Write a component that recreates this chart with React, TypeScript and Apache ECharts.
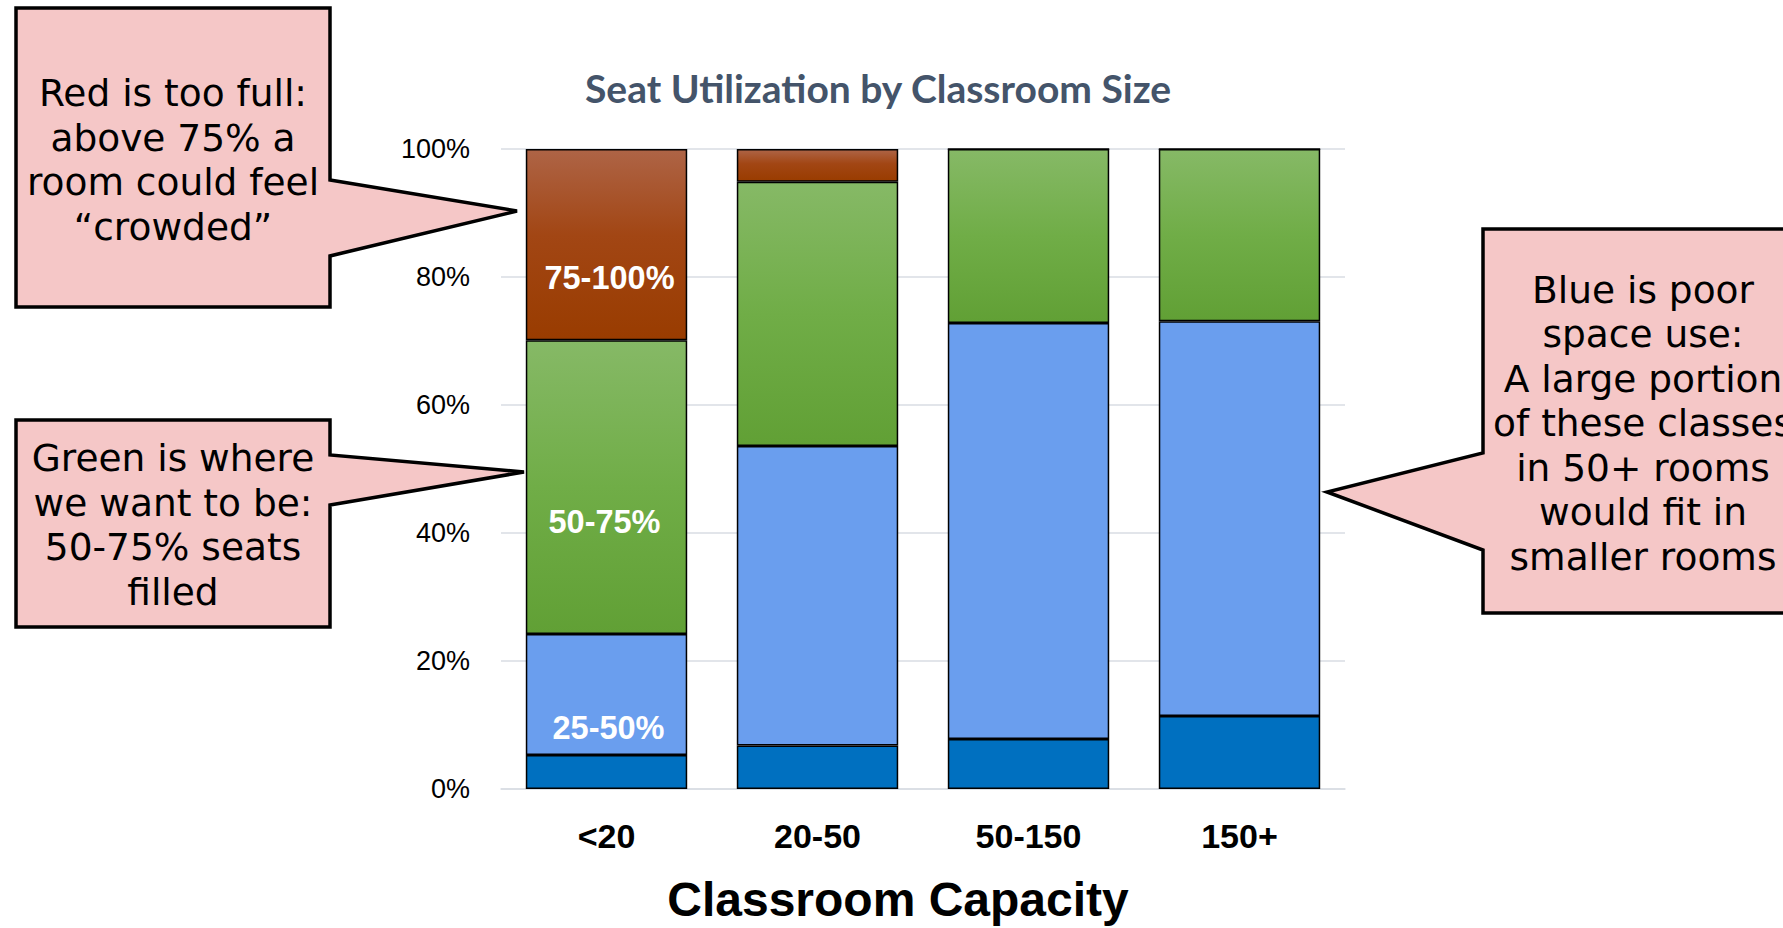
import React, { useEffect, useRef } from "react";
import * as echarts from "echarts";

const categories = ["<20", "20-50", "50-150", "150+"];
const seriesNames = ["0-25%", "25-50%", "50-75%", "75-100%"];
const seg0to25 = [5.3, 6.8, 7.8, 11.4];
const seg25to50 = [18.9, 46.8, 65.0, 61.7];
const seg50to75 = [45.9, 41.3, 27.2, 26.9];
const seg75to100 = [29.9, 5.1, 0, 0];
const labelledCategory = "<20";

const titleText = "Seat Utilization by Classroom Size";
const xAxisName = "Classroom Capacity";

const calloutRed = ["Red is too full:", "above 75% a", "room could feel", "\u201Ccrowded\u201D"];
const calloutGreen = ["Green is where", "we want to be:", "50-75% seats", "filled"];
const calloutBlue = [
  "Blue is poor",
  "space use:",
  "A large portion",
  "of these classes",
  "in 50+ rooms",
  "would fit in",
  "smaller rooms",
];

const PINK = "#F5C7C7";

function grad(stops: [number, string][]) {
  return new echarts.graphic.LinearGradient(
    0, 0, 0, 1,
    stops.map(([offset, color]) => ({ offset, color }))
  );
}

export default function App() {
  const ref = useRef<HTMLDivElement>(null);
  useEffect(() => {
    if (!ref.current) return;
    const chart = echarts.init(ref.current, undefined, { renderer: "svg" });

    const fills = [
      "#0070C0",
      "#6A9EEE",
      grad([
        [0, "#86B966"],
        [0.5, "#70AD47"],
        [1, "#61A035"],
      ]),
      grad([
        [0, "#AE6446"],
        [0.45, "#A24614"],
        [1, "#993C00"],
      ]),
    ];
    const values = [seg0to25, seg25to50, seg50to75, seg75to100];
    const labelOffsets: [number, number][] = [
      [0, 0],
      [2, 33],
      [-2, 35],
      [3, 33],
    ];

    const series = seriesNames.map((name, si) => ({
      name,
      type: "bar",
      stack: "total",
      barWidth: "76.5%",
      itemStyle: { color: fills[si], borderColor: "#000", borderWidth: 1.5 },
      label: {
        show: false,
        position: "inside",
        formatter: "{a}",
        color: "#fff",
        fontFamily: "Liberation Sans, Arial, sans-serif",
        fontWeight: "bold",
        fontSize: 32.5,
        offset: labelOffsets[si],
      },
      data: values[si].map((v, i) =>
        si > 0 && categories[i] === labelledCategory
          ? { value: v, label: { show: true } }
          : v
      ),
    }));

    const callout = (
      box: [number, number, number, number],
      side: "right" | "left",
      baseTop: number,
      baseBottom: number,
      tip: [number, number]
    ) => {
      const [x0, y0, x1, y1] = box;
      const pts =
        side === "right"
          ? [[x0, y0], [x1, y0], [x1, baseTop], tip, [x1, baseBottom], [x1, y1], [x0, y1]]
          : [[x0, y0], [x1, y0], [x1, y1], [x0, y1], [x0, baseBottom], tip, [x0, baseTop]];
      return {
        type: "polygon",
        shape: { points: pts },
        style: { fill: PINK, stroke: "#000", lineWidth: 3.5, lineJoin: "miter" },
        z: 10,
      };
    };
    const calloutText = (lines: string[], cx: number, cy: number) => ({
      type: "text",
      x: cx,
      y: cy,
      style: {
        text: lines.join("\n"),
        fill: "#000",
        font: "37.5px 'DejaVu Sans', Verdana, sans-serif",
        lineHeight: 44.5,
        align: "center",
        verticalAlign: "middle",
      },
      z: 11,
    });

    chart.setOption({
      animation: false,
      title: {
        text: titleText,
        left: 878,
        top: 88,
        textAlign: "center",
        textVerticalAlign: "middle",
        padding: 0,
        textStyle: {
          fontFamily: "Lato, 'Open Sans', sans-serif",
          fontWeight: "bold",
          fontSize: 39,
          color: "#44546A",
        },
      },
      grid: { left: 501, right: 438, top: 149, bottom: 128 },
      xAxis: {
        type: "category",
        data: categories,
        axisLine: { show: true, lineStyle: { color: "#D9DDE3", width: 1.5 } },
        axisTick: { show: false },
        axisLabel: {
          margin: 30,
          color: "#000",
          fontFamily: "Liberation Sans, Arial, sans-serif",
          fontWeight: "bold",
          fontSize: 34,
        },
        name: xAxisName,
        nameLocation: "middle",
        nameGap: 86,
        nameTextStyle: {
          color: "#000",
          fontFamily: "Liberation Sans, Arial, sans-serif",
          fontWeight: "bold",
          fontSize: 48,
          padding: [0, 50, 0, 0],
        },
      },
      yAxis: {
        type: "value",
        min: 0,
        max: 100,
        interval: 20,
        axisLine: { show: false },
        axisTick: { show: false },
        splitLine: { lineStyle: { color: "#D9DDE3", width: 1.5 } },
        axisLabel: {
          formatter: "{value}%",
          margin: 31,
          color: "#000",
          fontFamily: "Liberation Sans, Arial, sans-serif",
          fontSize: 27,
        },
      },
      series,
      graphic: [
        callout([16, 8, 330, 307], "right", 180, 256, [517, 211]),
        calloutText(calloutRed, 173, 160),
        callout([16, 420, 330, 627], "right", 455, 505, [524, 472]),
        calloutText(calloutGreen, 173, 525),
        callout([1483, 229, 1810, 613], "left", 453, 550, [1327, 492]),
        calloutText(calloutBlue, 1643, 423),
      ],
    });
    return () => chart.dispose();
  }, []);
  return (
    <div
      ref={ref}
      style={{ position: "absolute", left: 0, top: 0, width: 1783, height: 928 }}
    />
  );
}
